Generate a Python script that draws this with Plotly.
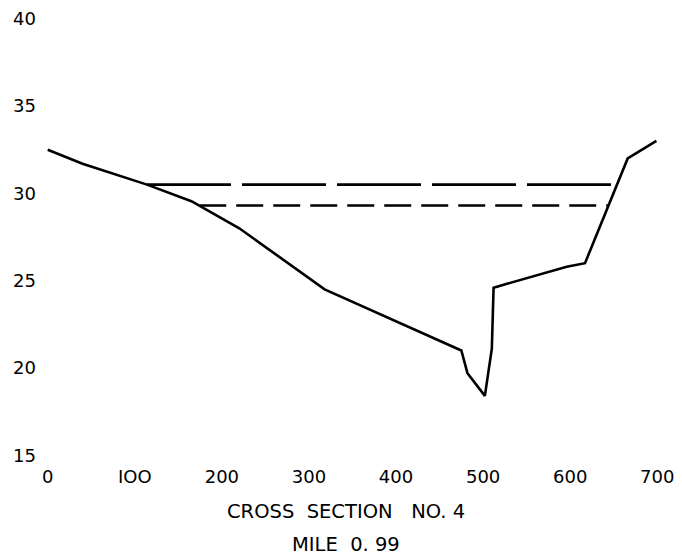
import plotly.graph_objects as go

# ground profile of the cross section (station ft, elevation ft)
station = [0, 40, 114, 165, 220, 318, 475, 482, 502, 510, 512, 596, 617, 666, 699]
elevation = [32.5, 31.7, 30.5, 29.55, 28.0, 24.5, 21.0, 19.7, 18.4, 21.1, 24.6, 25.8, 26.0, 32.0, 33.0]

# water surface lines
upper_x = [114, 654]
upper_y = [30.5, 30.5]
lower_x = [174, 644]
lower_y = [29.3, 29.3]

x_ticks = [0, 100, 200, 300, 400, 500, 600, 700]
x_labels = ["0", "IOO", "200", "300", "400", "500", "600", "700"]
y_ticks = [15, 20, 25, 30, 35, 40]

font = "DejaVu Sans"

fig = go.Figure()

fig.add_trace(go.Scatter(
    x=upper_x, y=upper_y, mode="lines",
    line=dict(color="black", width=2.6, dash="84px,11px"),
    showlegend=False
))
fig.add_trace(go.Scatter(
    x=lower_x, y=lower_y, mode="lines",
    line=dict(color="black", width=2.6, dash="27px,10px"),
    showlegend=False
))
fig.add_trace(go.Scatter(
    x=station, y=elevation, mode="lines",
    line=dict(color="black", width=2.6),
    showlegend=False
))

fig.update_layout(
    width=682, height=556,
    margin=dict(l=39, r=15, t=8, b=92),
    paper_bgcolor="white",
    plot_bgcolor="white",
    font=dict(family=font, color="black", size=18),
    xaxis=dict(
        range=[-10, 710], tickvals=x_ticks, ticktext=x_labels,
        showgrid=False, zeroline=False, showline=False, ticks="",
        tickfont=dict(size=18)
    ),
    yaxis=dict(
        range=[14.5, 40.5], tickvals=y_ticks,
        showgrid=False, zeroline=False, showline=False, ticks="",
        tickfont=dict(size=18), ticklabelstandoff=2
    ),
    annotations=[
        dict(text="CROSS  SECTION   NO. 4", x=0.49, y=-0.105,
             xref="paper", yref="paper", showarrow=False,
             font=dict(size=19.5), xanchor="center", yanchor="middle"),
        dict(text="MILE  0. 99", x=0.49, y=-0.178,
             xref="paper", yref="paper", showarrow=False,
             font=dict(size=19.5), xanchor="center", yanchor="middle"),
    ]
)

fig.write_html("out.html", config={"displayModeBar": False},
               post_script="document.body.style.margin='0';")
